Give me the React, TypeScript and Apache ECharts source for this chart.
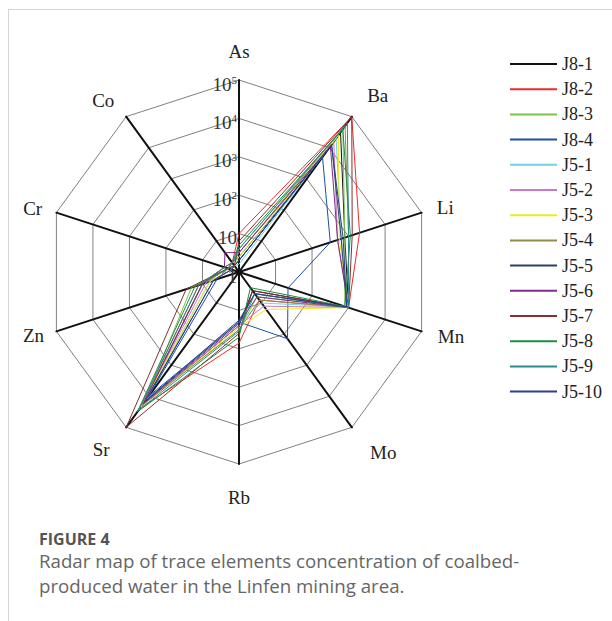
import React, { useEffect, useRef } from "react";
import * as echarts from "echarts";

// Indicator (element) names, clockwise from the top as in the figure
const elements = ["As", "Ba", "Li", "Mn", "Mo", "Rb", "Sr", "Zn", "Cr", "Co"];
// Log-scale rings: 10^0 .. 10^5
const tickExponents = [0, 1, 2, 3, 4, 5];

const sampleNames = [
  "J8-1", "J8-2", "J8-3", "J8-4", "J5-1", "J5-2", "J5-3",
  "J5-4", "J5-5", "J5-6", "J5-7", "J5-8", "J5-9", "J5-10",
];
const sampleColors = [
  "#111111", "#ee2a2a", "#7dc443", "#1f4ea8", "#6fd3e3", "#c87ac8", "#f0ea1c",
  "#8e8d4a", "#2d3e6e", "#7d2d8c", "#8a2e2e", "#1d8c45", "#2a8c8c", "#2e3f8e",
];

// Concentrations (order: As, Ba, Li, Mn, Mo, Rb, Sr, Zn, Cr, Co)
const J8_1 = [2, 31600, 790, 1000, 4, 25, 20000, 10, 2, 1.6];
const J8_2 = [10, 99000, 2000, 1000, 8, 71, 25000, 12.6, 2.5, 2];
const J8_3 = [4, 39800, 790, 790, 6.3, 32, 15800, 20, 2, 1.6];
const J8_4 = [2.5, 5000, 316, 22, 141, 20, 10000, 4, 2, 2];
const J5_1 = [1.6, 20000, 630, 890, 10, 20, 12600, 6.3, 1.6, 1.6];
const J5_2 = [3.2, 15800, 500, 1000, 12.6, 25, 20000, 8, 2, 2];
const J5_3 = [2.5, 25100, 560, 1000, 16, 28, 22400, 6.3, 1.6, 1.6];
const J5_4 = [3.2, 50100, 1000, 1000, 8, 32, 20000, 10, 2, 2];
const J5_5 = [2, 12600, 630, 890, 5, 20, 15800, 5, 1.6, 1.6];
const J5_6 = [3.2, 11200, 500, 1000, 6.3, 22, 17800, 10, 2.5, 4.2];
const J5_7 = [6.3, 99000, 1260, 1000, 4, 40, 99000, 28, 2, 1.6];
const J5_8 = [5, 39800, 1120, 790, 3.2, 50, 31600, 16, 2, 2];
const J5_9 = [4, 63100, 1000, 1000, 5, 35, 28200, 12.6, 2.5, 2];
const J5_10 = [2, 12600, 710, 890, 5, 18, 14100, 5, 1.6, 1.6];

const sampleValues = [
  J8_1, J8_2, J8_3, J8_4, J5_1, J5_2, J5_3,
  J5_4, J5_5, J5_6, J5_7, J5_8, J5_9, J5_10,
];

const captionTitle = "FIGURE 4";
const captionLine1 = "Radar map of trace elements concentration of coalbed-";
const captionLine2 = "produced water in the Linfen mining area.";

const SERIF = "'Liberation Serif', 'Times New Roman', serif";
const SANS = "'Open Sans', 'Noto Sans', sans-serif";

// distance of each element name from its spoke end (same order as elements)
const nameGaps = [19, 26, 16, 17, 31, 24, 28, 13, 15, 20];

// ECharts radar runs counter-clockwise; the figure runs clockwise.
const order = elements.map((_, i) => (i === 0 ? 0 : elements.length - i));

export default function App() {
  const ref = useRef<HTMLDivElement>(null);

  useEffect(() => {
    if (!ref.current) return;
    const chart = echarts.init(ref.current, null, { renderer: "svg" });
    const maxExp = tickExponents[tickExponents.length - 1];
    const minExp = tickExponents[0];

    const indicator = order.map((idx, k) => {
      const base: any = {
        name: elements[idx],
        min: minExp,
        max: maxExp,
        nameGap: nameGaps[idx],
      };
      if (k === 0) {
        base.axisLabel = {
          show: true,
          fontFamily: SERIF,
          fontSize: 19,
          color: "#333",
          margin: 2,
          padding: [8, 0, 0, 0],
          formatter: (v: number) => {
            const e = Math.round(v);
            if (e === 0) return "1";
            if (e === 1) return "10";
            return "10{s|" + e + "}";
          },
          rich: {
            s: { fontSize: 11, fontFamily: SERIF, color: "#333", verticalAlign: "top" },
          },
        };
      }
      return base;
    });

    const series = sampleNames.map((name, i) => ({
      type: "radar",
      name,
      symbol: "none",
      lineStyle: { color: sampleColors[i], width: 1 },
      itemStyle: { color: sampleColors[i] },
      data: [
        {
          name,
          value: order.map((idx) => Math.log10(sampleValues[i][idx])),
        },
      ],
    }));

    chart.setOption({
      animation: false,
      legend: {
        orient: "vertical",
        left: 501,
        top: 44,
        padding: 0,
        icon: "rect",
        itemWidth: 47,
        itemHeight: 2,
        itemGap: 5.2,
        selectedMode: false,
        data: sampleNames,
        textStyle: { fontFamily: SERIF, fontSize: 18, color: "#222", lineHeight: 20 },
      },
      radar: {
        center: [230, 262],
        radius: 192,
        startAngle: 90,
        shape: "polygon",
        splitNumber: maxExp - minExp,
        nameGap: 20,
        axisName: { fontFamily: SERIF, fontSize: 19, color: "#222" },
        axisLine: { lineStyle: { color: "#111", width: 2 } },
        splitLine: { lineStyle: { color: "#808080", width: 1 } },
        splitArea: { show: false },
        axisTick: { show: false },
        axisLabel: { show: false },
        indicator,
      },
      series,
      graphic: [
        {
          type: "text",
          left: 30,
          top: 521,
          style: { text: captionTitle, font: `bold 16px ${SANS}`, fill: "#555" },
        },
        {
          type: "text",
          left: 30,
          top: 541,
          style: { text: captionLine1, font: `18.7px ${SANS}`, fill: "#666" },
        },
        {
          type: "text",
          left: 30,
          top: 566,
          style: { text: captionLine2, font: `18.7px ${SANS}`, fill: "#666" },
        },
      ],
    });
    return () => chart.dispose();
  }, []);

  return (
    <div
      style={{
        position: "fixed",
        left: 8,
        top: 9,
        width: 604,
        height: 612,
        borderLeft: "1px solid #d4d4d4",
        borderTop: "1px solid #d4d4d4",
        boxSizing: "border-box",
        background: "#fff",
      }}
    >
      <div ref={ref} style={{ width: 603, height: 611 }} />
    </div>
  );
}
